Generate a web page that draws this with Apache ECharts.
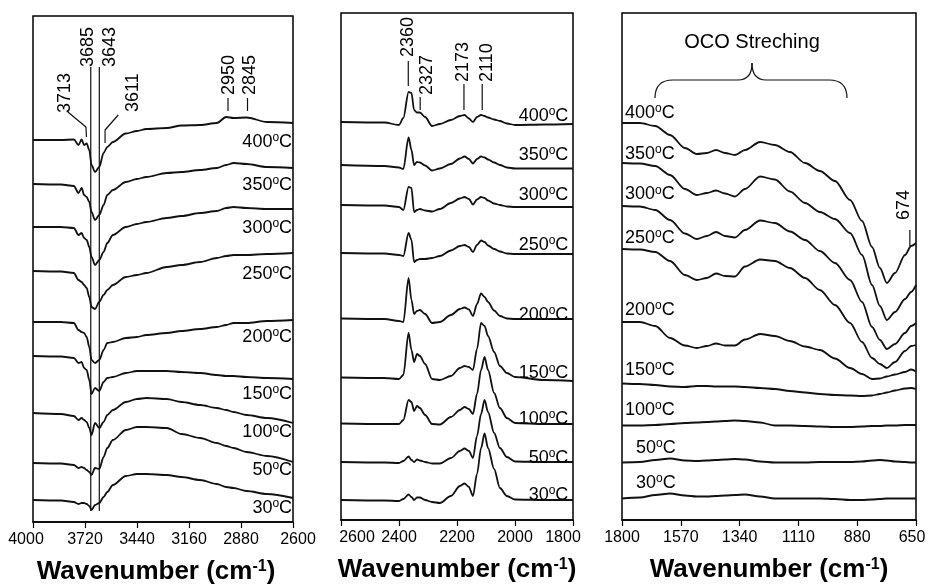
<!DOCTYPE html>
<html>
<head>
<meta charset="utf-8">
<script src="https://cdn.jsdelivr.net/npm/echarts@6/dist/echarts.min.js"></script>
<style>
html, body { margin: 0; background: #fff; }
#box { width: 934px; height: 586px; }
</style>
</head>
<body>
<div id="box"></div>
<script>
// temperatures, top to bottom
var temps = ['400', '350', '300', '250', '200', '150', '100', '50', '30']

// ---- panel 1 : 4000-2600 cm-1 (offset intensity, a.u.) ----
var wnOH = [4000, 3850, 3780, 3755, 3738, 3725, 3711, 3697, 3685, 3666, 3643, 3620, 3600, 3570, 3500, 3440, 3390, 3280, 3200, 3100, 3010, 2960, 2920, 2850, 2740, 2600]
var oh400 = [382, 382, 382.5, 377, 382.5, 377, 378.5, 372, 357, 350, 355, 369, 375, 380, 388.5, 391, 393, 394, 396.5, 397, 399, 405, 404, 404.5, 400, 399]
var oh350 = [338, 337.5, 336, 329, 334, 327, 325, 320, 310, 302, 307, 317, 327, 332, 340, 343, 345, 349, 350, 352, 354, 357, 359, 358, 355, 354]
var oh300 = [295, 295, 294, 287, 289, 284, 282, 275, 265, 257, 262, 270, 279, 287, 295, 298, 300, 304, 306, 309, 311, 314, 315, 314, 313, 313]
var oh250 = [251, 250.5, 249, 242, 240, 237, 234, 225, 215, 213, 220, 227, 232, 237, 245, 247, 249, 255, 257, 260, 264, 266, 267, 267, 268, 269]
var oh200 = [200, 200, 199, 192, 190, 189, 185, 175, 162, 159, 162, 172, 179, 180, 184, 185, 187, 189, 191, 193, 195, 197, 199, 199, 201, 202]
var oh150 = [166, 165.5, 164, 159, 160, 154, 152, 142, 128, 134, 131, 140, 144, 145, 149, 151, 151, 151, 150, 149, 147, 146, 146, 145, 144, 143]
var oh100 = [109, 108, 106, 102, 104, 102, 100, 94, 87, 99, 94, 100, 107, 112, 120, 123, 124, 123, 120, 117, 114, 112, 110, 107, 104, 99]
var oh50 = [59, 58.5, 57, 54, 55, 54, 52, 50, 47, 54, 53, 65, 74, 82, 92, 95, 95, 94, 88, 84, 79, 76, 74, 70, 66, 60]
var oh30 = [22, 21.5, 20, 18, 19, 19, 18, 16, 12, 17, 19, 25, 30, 37, 46, 48, 48, 47, 45, 42, 38, 35, 34, 31, 28, 24]

// ---- panel 2 : 2600-1800 cm-1 ----
var wnCO = [2600, 2450, 2400, 2385, 2367, 2357, 2348, 2338, 2328, 2310, 2286, 2259, 2221, 2190, 2174, 2159, 2145, 2131, 2117, 2105, 2093, 2072, 2052, 2028, 2000, 1900, 1800]
var co400 = [398, 397.5, 395, 402, 428, 427, 410, 407.5, 407.5, 403, 394, 396, 400, 404, 405, 401.5, 398, 403, 405, 404, 402.5, 400.5, 399, 396.5, 395, 395.5, 396]
var co350 = [355, 354, 352.5, 351, 382.5, 370, 355, 358, 357.5, 354.5, 349.5, 351.5, 356, 361.5, 363.5, 361, 356.5, 361, 363.5, 362.5, 360.5, 357.5, 355, 352.5, 351.5, 351.5, 351.5]
var co300 = [315, 314.5, 313, 310, 333, 332, 308, 310, 311, 309.5, 308.5, 311, 317, 321.5, 323, 321, 315.5, 320.5, 323, 322, 319.5, 316.5, 315, 313.5, 313, 313, 313]
var co250 = [267, 266.5, 265, 264, 287, 280, 258, 260, 261, 261, 262, 264, 269.5, 274, 275, 273, 268, 275, 279.5, 278, 274.5, 271, 268.5, 266.5, 266, 266, 266]
var co200 = [201.5, 201, 199, 198, 242, 220, 206, 209, 210, 206, 197, 198, 205, 211, 212.5, 210.5, 204, 216, 226.5, 223, 218, 209.5, 204, 201.5, 201, 201, 201]
var co150 = [142.5, 142, 141, 145, 187, 170, 158, 166, 164, 156, 141, 140, 144, 152, 154, 153, 150, 171, 197, 194, 184, 168, 154, 147, 143, 140, 139]
var co100 = [96.5, 96, 96, 100, 120, 118, 109, 114, 112, 105, 96, 95.5, 103, 110, 113, 111, 106, 126, 150, 163, 150, 127, 112, 102, 97, 96, 96]
var co50 = [58, 57.5, 57, 59, 63.5, 60, 58, 60.5, 59.5, 58, 56.5, 56.5, 62, 69, 71.5, 69, 62, 84, 106, 120, 108, 87, 72, 63, 58.5, 58, 58]
var co30 = [20, 19.5, 19, 21, 25.5, 23, 20, 22.5, 22.5, 20, 18, 17, 24, 34, 36.5, 33, 24, 46, 72, 86.5, 72, 51, 32, 24, 20.5, 20, 20]

// ---- panel 3 : 1800-650 cm-1 ----
var wnOCO = [1800, 1730, 1670, 1612, 1554, 1507, 1468, 1432, 1397, 1358, 1319, 1260, 1202, 1143, 1084, 1026, 967, 908, 861, 822, 791, 764, 732, 693, 669, 650]
var oco400 = [397, 397, 394, 385, 372, 366, 367, 370, 367, 365, 370, 378, 375, 368, 357, 349, 339, 320, 299, 273, 252, 237, 247, 265, 274, 277]
var oco350 = [357, 356.5, 354, 345, 331, 325, 327, 329.5, 326.5, 323.5, 331, 343.5, 340.5, 328.5, 317, 308, 301, 287, 265, 235, 214, 200, 208, 221, 228, 235]
var oco300 = [314, 313.5, 310, 300, 286.5, 281, 284, 288, 284, 282.5, 290, 299.5, 297, 288.5, 280, 269, 257, 240, 218, 193, 180, 171, 176, 187, 194, 197]
var oco250 = [271, 270.5, 268, 259, 245, 240, 242, 246.5, 244, 243.5, 253.5, 260.5, 259, 252, 242, 230, 215, 197, 178, 162, 156, 152, 158, 169, 174, 175]
var oco200 = [198, 198, 194, 182, 174.5, 172, 174, 176.5, 174.5, 174.5, 180.5, 186, 184, 179, 173.5, 170, 161.5, 152, 146, 141, 141.5, 143.5, 145.5, 148, 150.5, 148.5]
var oco150 = [136.5, 136, 135, 133.5, 133, 134, 134, 133.5, 133.5, 133.5, 133, 132, 131, 129, 127.5, 126, 125, 124.5, 124, 124.5, 126, 127.5, 129.5, 131.5, 132, 131]
var oco100 = [94.5, 94.5, 95, 96, 97, 97.5, 98, 98.5, 99, 99.5, 99, 97.5, 94.5, 94.5, 94, 93.5, 93, 93, 93.5, 94, 94, 94.5, 94.5, 95, 95, 95]
var oco50 = [57.5, 58, 60, 61.5, 59.5, 59, 59.5, 60, 60.5, 61, 60.5, 58.5, 57.5, 57.5, 57.5, 58, 58, 58, 58.5, 59.5, 60, 59.5, 58.5, 58, 57.5, 57.5]
var oco30 = [21.5, 22.5, 25, 26.5, 24.5, 23.5, 23.5, 24, 24.5, 25, 25.5, 23.5, 21.5, 21.5, 21.5, 21.5, 21, 20, 20, 20.5, 21, 21.5, 21.5, 21.5, 21.5, 21.5]

// tick labels
var ticksOH = [4000, 3720, 3440, 3160, 2880, 2600]
var ticksCO = [2600, 2400, 2200, 2000, 1800]
var ticksOCO = [1800, 1570, 1340, 1110, 880, 650]

// peak labels: [wavenumber, level, text]
var peaksOH = [[3828, 409, '3713'], [3702, 455, '3685'], [3585, 455, '3643'], [3462, 410, '3611'], [2942, 427, '2950'], [2831, 427, '2845']]
var peaksCO = [[2368, 463, '2360'], [2303, 425, '2327'], [2178, 438, '2173'], [2098, 438, '2110']]
var peaksOCO = [[697, 300, '674']]
// leader lines
var leadOH = [
    [[3812, 410], [3715, 395], [3712, 385]],
    [[3689, 455], [3689, 11]],
    [[3643, 455], [3643, 11]],
    [[3541, 407], [3612, 392], [3612, 379]],
    [[2950, 424], [2950, 411]],
    [[2845, 424], [2845, 411]]
]
var leadCO = [
    [[2368, 459], [2368, 434]],
    [[2327, 423], [2327, 410]],
    [[2176, 436], [2176, 410]],
    [[2113, 436], [2113, 410]]
]
var leadOCO = [[[674, 290], [674, 274]]]
// temperature label anchors
var tlOH = [380, 337, 294, 248, 185, 128, 89.5, 52, 14]
var tlCO = [404, 365, 325, 275, 205, 147, 101, 62, 25]
var tlOCO = [407, 366, 325.5, 282, 210, 150, 110, 72, 37]

var font = 'Liberation Sans, Arial, Helvetica, sans-serif'
var ink = '#111'

function spectra(wn, list, idx) {
    return list.map(function (vals, k) {
        return {
            name: temps[k] + '_' + idx,
            type: 'line',
            xAxisIndex: idx,
            yAxisIndex: idx,
            data: wn.map(function (w, i) { return [w, vals[i]] }),
            symbol: 'none',
            smooth: 0.3,
            smoothMonotone: 'x',
            lineStyle: { color: ink, width: 1.8 },
            silent: true
        }
    })
}

function leaders(lines, idx) {
    return lines.map(function (pts) {
        return {
            type: 'line',
            xAxisIndex: idx,
            yAxisIndex: idx,
            data: pts,
            symbol: 'none',
            lineStyle: { color: ink, width: 1.2 },
            silent: true,
            z: 5
        }
    })
}

// small horizontal nudges for the end labels, px (negative = left)
var nudgeOH = { 4000: -7, 2600: 5 }
var nudgeCO = { 2600: 16, 1800: -10 }
var nudgeOCO = { 650: -4 }

function xAx(idx, min, max, ticks, nudge, namePad) {
    var rich = {}
    Object.keys(nudge).forEach(function (v) {
        var s = nudge[v]
        rich['n' + v] = {
            fontSize: 16, color: '#000', fontFamily: font,
            padding: s < 0 ? [0, -2 * s, 0, 0] : [0, 0, 0, 2 * s]
        }
    })
    return {
        type: 'value',
        gridIndex: idx,
        min: min,
        max: max,
        inverse: true,
        axisLine: { show: true, lineStyle: { color: '#000', width: 1.5 } },
        axisTick: { show: true, inside: false, length: 6, customValues: ticks, lineStyle: { color: '#000', width: 1.2 } },
        axisLabel: {
            customValues: ticks, color: '#000', fontSize: 16, margin: 10, fontFamily: font,
            formatter: function (v) { return nudge[v] ? '{n' + v + '|' + v + '}' : String(v) },
            rich: rich
        },
        splitLine: { show: false },
        name: 'Wavenumber (cm{sup|-1})',
        nameLocation: 'middle',
        nameGap: 37,
        nameTextStyle: {
            color: '#000', fontSize: 26, fontWeight: 'bold', fontFamily: font,
            padding: namePad,
            rich: { sup: { fontSize: 16, fontWeight: 'bold', verticalAlign: 'top', lineHeight: 16, color: '#000', fontFamily: font } }
        }
    }
}

function yAx(idx, max) {
    return { type: 'value', gridIndex: idx, min: 0, max: max, show: false }
}

var gridStyle = { show: true, borderColor: '#000', borderWidth: 1.5, backgroundColor: 'transparent', containLabel: false, outerBoundsMode: 'none' }

var option = {
    animation: false,
    textStyle: { fontFamily: font },
    grid: [
        Object.assign({ left: 33, top: 16, width: 260, height: 506 }, gridStyle),
        Object.assign({ left: 341, top: 13, width: 232, height: 507 }, gridStyle),
        Object.assign({ left: 622, top: 13, width: 294, height: 507 }, gridStyle)
    ],
    xAxis: [
        xAx(0, 2600, 4000, ticksOH, nudgeOH, [0, 14, 0, 0]),
        xAx(1, 1800, 2600, ticksCO, nudgeCO, 0),
        xAx(2, 650, 1800, ticksOCO, nudgeOCO, 0)
    ],
    yAxis: [yAx(0, 506), yAx(1, 507), yAx(2, 507)],
    series: [].concat(
        spectra(wnOH, [oh400, oh350, oh300, oh250, oh200, oh150, oh100, oh50, oh30], 0),
        spectra(wnCO, [co400, co350, co300, co250, co200, co150, co100, co50, co30], 1),
        spectra(wnOCO, [oco400, oco350, oco300, oco250, oco200, oco150, oco100, oco50, oco30], 2),
        leaders(leadOH, 0),
        leaders(leadCO, 1),
        leaders(leadOCO, 2)
    )
}

var chart = echarts.init(document.getElementById('box'))
chart.setOption(option)

// text annotations placed through the axes
function px(idx, pt) {
    return chart.convertToPixel({ xAxisIndex: idx, yAxisIndex: idx }, pt)
}

var graphics = []

function peakText(items, idx) {
    items.forEach(function (it) {
        var p = px(idx, [it[0], it[1]])
        graphics.push({
            type: 'text', x: p[0], y: p[1], rotation: Math.PI / 2, silent: true, z: 10,
            style: { text: it[2], fill: '#000', font: '18px ' + font, align: 'left', verticalAlign: 'middle' }
        })
    })
}

function tempText(idx, wn, levels, align, extra) {
    temps.forEach(function (t, k) {
        var x = (extra && extra[t]) ? extra[t] : wn
        var p = px(idx, [x, levels[k]])
        graphics.push({
            type: 'text', x: p[0], y: p[1], silent: true, z: 10,
            style: {
                text: '{n|' + t + '}{s|o}{n|C}', fill: '#000', align: align, verticalAlign: 'middle',
                rich: {
                    n: { fontSize: 18, lineHeight: 20, fill: '#000', fontFamily: font },
                    s: { fontSize: 12, lineHeight: 12, verticalAlign: 'top', fill: '#000', fontFamily: font }
                }
            }
        })
    })
}

peakText(peaksOH, 0)
peakText(peaksCO, 1)
peakText(peaksOCO, 2)
tempText(0, 2605, tlOH, 'right')
tempText(1, 1816, tlCO, 'right')
tempText(2, 1788, tlOCO, 'left', { '50': 1745, '30': 1745 })

// curly brace and caption over the OCO band
var brace = { stroke: ink, lineWidth: 1.2, fill: null }
var braceParts = [
    { type: 'bezierCurve', shape: { x1: 655, y1: 98, cpx1: 655, cpy1: 80, x2: 673, y2: 80 } },
    { type: 'line', shape: { x1: 673, y1: 80, x2: 738, y2: 80 } },
    { type: 'bezierCurve', shape: { x1: 738, y1: 80, cpx1: 752, cpy1: 80, x2: 752, y2: 63 } },
    { type: 'bezierCurve', shape: { x1: 752, y1: 63, cpx1: 752, cpy1: 80, x2: 766, y2: 80 } },
    { type: 'line', shape: { x1: 766, y1: 80, x2: 829, y2: 80 } },
    { type: 'bezierCurve', shape: { x1: 829, y1: 80, cpx1: 847, cpy1: 80, x2: 847, y2: 98 } }
].map(function (g) { g.style = brace; g.silent = true; return g })

graphics = graphics.concat(braceParts, [{
    type: 'text', x: 752, y: 42, silent: true,
    style: { text: 'OCO Streching', font: '20px ' + font, fill: '#000', align: 'center', verticalAlign: 'middle' }
}])

chart.setOption({ graphic: graphics })
</script>
</body>
</html>
